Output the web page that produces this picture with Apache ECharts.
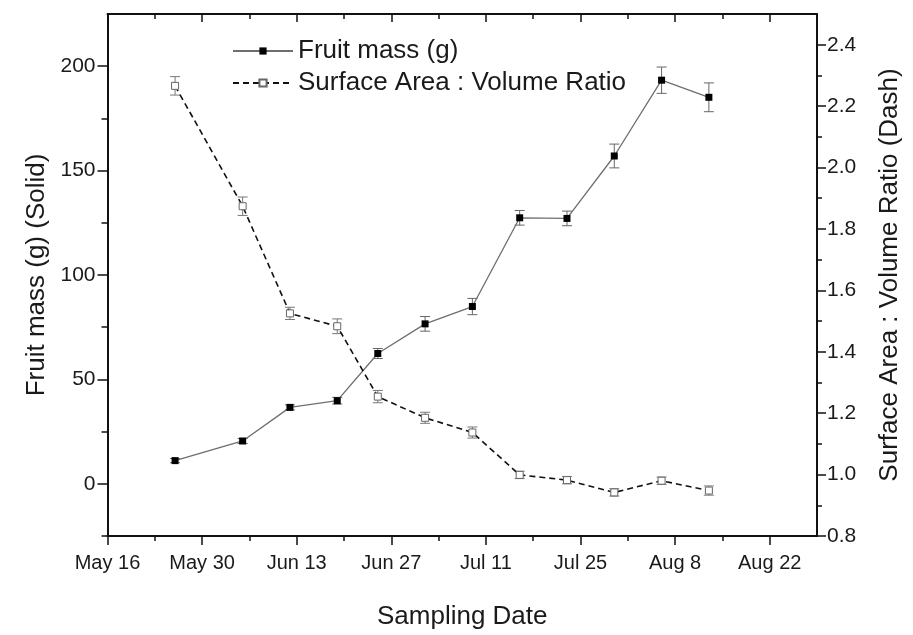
<!DOCTYPE html>
<html><head><meta charset="utf-8">
<script src="https://cdn.jsdelivr.net/npm/echarts@6/dist/echarts.min.js"></script>
<style>html,body{margin:0;padding:0;background:#fff}#c{width:913px;height:635px}</style>
</head><body><div id="c"></div>
<script>
// ---- data ----
const startDate = '2023-05-16';
const endDate = '2023-08-29';
const sampleDates = ['2023-05-26','2023-06-05','2023-06-12','2023-06-19','2023-06-25','2023-07-02',
                     '2023-07-09','2023-07-16','2023-07-23','2023-07-30','2023-08-06','2023-08-13'];
const fruitMass    = [11.1, 20.5, 36.6, 39.8, 62.4, 76.6, 84.9, 127.4, 127.1, 157.0, 193.3, 185.1];
const fruitMassErr = [1.0, 1.2, 1.2, 1.6, 2.4, 3.5, 3.9, 3.5, 3.5, 5.7, 6.3, 6.9];
const saVolRatio    = [2.266, 1.874, 1.525, 1.483, 1.254, 1.185, 1.137, 0.999, 0.982, 0.942, 0.980, 0.948];
const saVolRatioErr = [0.030, 0.030, 0.020, 0.024, 0.020, 0.018, 0.018, 0.012, 0.012, 0.012, 0.012, 0.015];
const xTickLabels = ['May 16','May 30','Jun 13','Jun 27','Jul 11','Jul 25','Aug 8','Aug 22'];
const xMajorDays = [0, 14, 28, 42, 56, 70, 84, 98];
const xMinorDays = [7, 21, 35, 49, 63, 77, 91];
const massTicks = [0, 50, 100, 150, 200];
const massMinorTicks = [-25, 25, 75, 125, 175];
const ratioTicks = [0.8, 1.0, 1.2, 1.4, 1.6, 1.8, 2.0, 2.2, 2.4];
const ratioMinorTicks = [0.9, 1.1, 1.3, 1.5, 1.7, 1.9, 2.1, 2.3];

const DAY = 86400000;
const t0 = Date.parse(startDate + 'T00:00:00Z');
const toDay = s => Math.round((Date.parse(s + 'T00:00:00Z') - t0) / DAY);
const days = sampleDates.map(toDay);
const xMax = toDay(endDate);

const FONT = 'Liberation Sans, Arial, sans-serif';
const TXT = '#1a1a1a';
const AX = '#111';

function errSeries(yAxisIndex, vals, errs, color) {
  return {
    type: 'custom', xAxisIndex: 0, yAxisIndex: yAxisIndex, silent: true, z: 1,
    data: days.map((d, i) => [d, vals[i] - errs[i], vals[i] + errs[i]]),
    renderItem: function (params, api) {
      const x = api.value(0);
      const lo = api.coord([x, api.value(1)]);
      const hi = api.coord([x, api.value(2)]);
      const w = 5;
      const st = { stroke: color, lineWidth: 1 };
      return { type: 'group', children: [
        { type: 'line', shape: { x1: lo[0], y1: lo[1], x2: hi[0], y2: hi[1] }, style: st },
        { type: 'line', shape: { x1: lo[0] - w, y1: lo[1], x2: lo[0] + w, y2: lo[1] }, style: st },
        { type: 'line', shape: { x1: hi[0] - w, y1: hi[1], x2: hi[0] + w, y2: hi[1] }, style: st }
      ]};
    }
  };
}

const axisLineOn = { show: true, onZero: false, lineStyle: { color: AX, width: 2 } };
const axisLineOff = { show: false, onZero: false };
const tickStyle = { color: AX, width: 1.5 };
const nameStyle = { fontSize: 26, color: TXT, fontFamily: FONT };

const option = {
  animation: false,
  backgroundColor: '#fff',
  textStyle: { fontFamily: FONT },
  grid: { left: 107.5, right: 96, top: 14, bottom: 93, containLabel: false },
  legend: {
    left: 232, top: 38, orient: 'vertical', padding: 0,
    itemWidth: 60, itemHeight: 9, itemGap: 6,
    textStyle: { fontSize: 26, color: TXT, fontFamily: FONT },
    data: ['Fruit mass (g)', 'Surface Area : Volume Ratio']
  },
  xAxis: [{
    type: 'value', min: 0, max: xMax, position: 'bottom',
    name: 'Sampling Date', nameLocation: 'middle', nameGap: 68,
    nameTextStyle: nameStyle,
    axisLine: axisLineOn,
    axisTick: { show: true, inside: false, length: 9, lineStyle: tickStyle, customValues: xMajorDays },
    splitLine: { show: false },
    axisLabel: { fontSize: 20, color: TXT, margin: 17, fontFamily: FONT, customValues: xMajorDays,
      formatter: v => xTickLabels[xMajorDays.indexOf(Math.round(v))] || '' }
  }, {
    type: 'value', position: 'top', min: 0, max: xMax,
    axisLine: axisLineOn,
    axisTick: { show: true, inside: true, length: 8, lineStyle: tickStyle, customValues: xMajorDays },
    splitLine: { show: false }, axisLabel: { show: false }
  }, {
    type: 'value', position: 'bottom', min: 0, max: xMax,
    axisLine: axisLineOff,
    axisTick: { show: true, inside: false, length: 5, lineStyle: tickStyle, customValues: xMinorDays },
    splitLine: { show: false }, axisLabel: { show: false }
  }, {
    type: 'value', position: 'top', min: 0, max: xMax,
    axisLine: axisLineOff,
    axisTick: { show: true, inside: true, length: 5, lineStyle: tickStyle, customValues: xMinorDays },
    splitLine: { show: false }, axisLabel: { show: false }
  }],
  yAxis: [{
    type: 'value', min: -25, max: 225, position: 'left',
    name: 'Fruit mass (g) (Solid)', nameLocation: 'middle', nameGap: 56,
    nameTextStyle: nameStyle,
    axisLine: axisLineOn,
    axisTick: { show: true, inside: false, length: 10, lineStyle: tickStyle, customValues: massTicks },
    splitLine: { show: false },
    axisLabel: { fontSize: 21, color: TXT, margin: 12, fontFamily: FONT, customValues: massTicks,
      formatter: v => String(v) }
  }, {
    type: 'value', min: 0.8, max: 2.5, position: 'right',
    name: 'Surface Area : Volume Ratio (Dash)', nameLocation: 'middle', nameGap: 60,
    nameTextStyle: nameStyle,
    axisLine: axisLineOn,
    axisTick: { show: true, inside: false, length: 9, lineStyle: tickStyle, customValues: ratioTicks },
    splitLine: { show: false },
    axisLabel: { fontSize: 21, color: TXT, margin: 10, fontFamily: FONT, customValues: ratioTicks,
      formatter: v => v.toFixed(1) }
  }, {
    type: 'value', min: -25, max: 225, position: 'left',
    axisLine: axisLineOff,
    axisTick: { show: true, inside: false, length: 6, lineStyle: tickStyle, customValues: massMinorTicks },
    splitLine: { show: false }, axisLabel: { show: false }
  }, {
    type: 'value', min: 0.8, max: 2.5, position: 'right',
    axisLine: axisLineOff,
    axisTick: { show: true, inside: false, length: 5, lineStyle: tickStyle, customValues: ratioMinorTicks },
    splitLine: { show: false }, axisLabel: { show: false }
  }],
  series: [
    errSeries(0, fruitMass, fruitMassErr, '#666'),
    errSeries(1, saVolRatio, saVolRatioErr, '#777'),
    {
      name: 'Fruit mass (g)', type: 'line', xAxisIndex: 0, yAxisIndex: 0, z: 3,
      data: days.map((d, i) => [d, fruitMass[i]]),
      symbol: 'rect', symbolSize: 7,
      itemStyle: { color: '#000', borderColor: '#000', borderWidth: 0 },
      lineStyle: { color: '#6e6e6e', width: 1.3, type: 'solid' }
    },
    {
      name: 'Surface Area : Volume Ratio', type: 'line', xAxisIndex: 0, yAxisIndex: 1, z: 3,
      data: days.map((d, i) => [d, saVolRatio[i]]),
      symbol: 'rect', symbolSize: 7,
      itemStyle: { color: '#fff', borderColor: '#666', borderWidth: 1 },
      lineStyle: { color: '#111', width: 1.6, type: [6, 4] }
    }
  ]
};

const chart = echarts.init(document.getElementById('c'), null, { renderer: 'canvas' });
chart.setOption(option);
</script>
</body></html>
